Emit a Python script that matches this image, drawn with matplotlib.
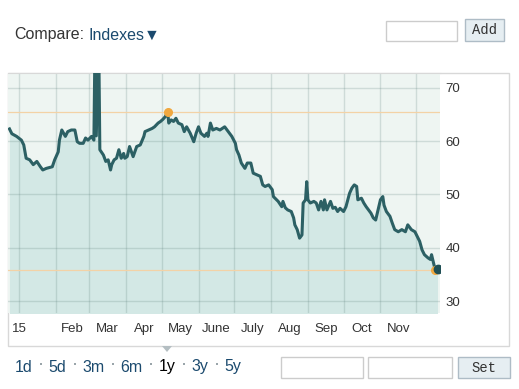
import matplotlib
matplotlib.use("Agg")
import matplotlib.pyplot as plt
import matplotlib.patches as mpatches
import numpy as np
import pandas as pd

# days counted from 2015-01-01
days = [-8, -6, -2, 2, 4, 6, 9, 12, 15, 18, 20, 23, 28, 30, 33, 34, 36, 39, 41, 44,
        47, 49, 51, 54, 56, 58, 61, 63, 64, 65, 67, 68, 71, 73, 75, 77, 78, 80, 82, 84,
        86, 88, 89, 91, 93, 96, 98, 99, 102, 105, 106, 109, 112, 114, 117, 119, 121, 123, 125, 126,
        128, 130, 132, 134, 137, 139, 141, 144, 147, 149, 151, 153, 156, 158, 159, 161, 163, 166, 169, 173,
        175, 177, 179, 182, 183, 185, 187, 190, 192, 195, 197, 200, 203, 205, 207, 210, 213, 214, 218, 221,
        222, 224, 226, 229, 231, 232, 234, 236, 238, 239, 241, 242, 243, 245, 248, 250, 252, 254, 256, 257,
        259, 262, 264, 266, 268, 270, 273, 275, 278, 280, 282, 284, 285, 288, 290, 292, 294, 296, 298, 300,
        302, 304, 306, 307, 309, 312, 314, 316, 319, 322, 325, 327, 330, 333, 335, 337, 339, 341, 344, 346,
        347, 349, 350, 352]
values = [62.3, 61.4, 60.9, 60.2, 59.3, 56.8, 56.5, 55.6, 56.2, 55.2, 54.6, 54.9, 55.2, 56.5, 58.0, 60.2, 62.1, 60.9, 61.8, 62.1,
          62.1, 59.9, 59.6, 59.6, 60.6, 60.2, 60.9, 60.2, 80.0, 61.0, 80.0, 58.4, 57.4, 56.2, 56.5, 54.6, 55.6, 56.5, 56.8, 58.4,
          56.8, 57.7, 56.8, 57.1, 59.0, 57.1, 58.4, 59.0, 59.3, 60.9, 61.8, 62.1, 62.4, 62.7, 63.4, 63.7, 64.1, 64.6, 65.5, 63.4,
          64.0, 63.7, 64.3, 63.4, 63.1, 61.8, 62.7, 61.5, 59.9, 61.5, 62.7, 61.5, 60.9, 61.5, 60.9, 63.4, 62.1, 62.4, 62.1, 62.7,
          62.1, 61.5, 60.9, 59.6, 58.4, 57.4, 55.9, 54.9, 55.9, 55.9, 54.0, 53.7, 53.4, 51.8, 51.5, 51.8, 50.9, 49.6, 48.7, 47.7,
          48.7, 47.5, 47.1, 46.8, 45.6, 44.3, 43.4, 41.8, 42.4, 48.4, 49.0, 52.4, 49.0, 48.4, 48.7, 48.4, 47.1, 48.7, 47.1, 49.0,
          47.1, 48.7, 47.4, 47.6, 46.8, 47.4, 46.8, 47.7, 50.2, 51.2, 51.8, 51.5, 49.0, 49.3, 48.4, 47.7, 47.1, 46.5, 45.6, 45.2,
          47.1, 49.0, 49.6, 48.0, 46.8, 45.9, 44.6, 43.4, 43.0, 43.4, 43.0, 44.3, 43.4, 43.0, 42.1, 41.2, 39.6, 38.7, 38.1, 37.8,
          38.7, 36.8, 35.9, 36.0]

month_labels = ["15", "Feb", "Mar", "Apr", "May", "June", "July", "Aug", "Sep", "Oct", "Nov"]
y_ticks = [30, 40, 50, 60, 70]
periods = ["1d", "5d", "3m", "6m", "1y", "3y", "5y"]
selected = "1y"

W, H = 519, 389
base = pd.Timestamp("2015-01-01")
dates = base + pd.to_timedelta(days, unit="D")
vals = np.array(values)

line_col = "#2c6064"
fill_col = "#d3e8e5"
bg_col = "#eef5f2"
orange = "#f0a840"
link_col = "#1b4a6e"


def fx(x):
    return x / W


def fy(y):
    return 1 - y / H


plt.rcParams["font.family"] = ["Liberation Sans", "DejaVu Sans"]
fig = plt.figure(figsize=(W / 100, H / 100), dpi=100)
fig.patch.set_facecolor("white")

# chart panel
fig.add_artist(mpatches.Rectangle((fx(8), fy(346)), fx(501), 273 / H, transform=fig.transFigure,
                                  facecolor="white", edgecolor="#d8d8d8", lw=1, zorder=-5))

ax = fig.add_axes([fx(8), fy(313), fx(432), 240 / H])
ax.set_zorder(2)
ax.set_facecolor(bg_col)
x_lo = base + pd.Timedelta(days=-9.25)
x_hi = base + pd.Timedelta(days=354.1)
ax.set_xlim(x_lo, x_hi)
ax.set_ylim(27.75, 72.8)

ax.fill_between(dates, vals, 20, color=fill_col, lw=0, zorder=1)

month_starts = pd.date_range("2015-01-01", "2015-12-01", freq="MS")
for d in month_starts:
    ax.axvline(d, color="#5d807c", alpha=0.22, lw=1, zorder=1.5)
for t in y_ticks:
    ax.axhline(t, color="#5d807c", alpha=0.22, lw=1, zorder=1.5)

imax = int(np.argmax(np.where(vals > 70, 0, vals)))
imin = int(np.argmin(vals))
ax.axhline(vals[imax], color="#f3d2a6", lw=0.9, zorder=1.6)
ax.axhline(vals[imin], color="#f3d2a6", lw=0.9, zorder=1.6)

ax.plot(dates, vals, color=line_col, lw=2.2, zorder=3, solid_joinstyle="round")
ax.plot(dates[imax], vals[imax], "o", color=orange, ms=5.5, zorder=4)
ax.plot(dates[imin], vals[imin], "o", color=orange, ms=5.5, zorder=4)
ax.plot(dates[-1], vals[-1], "o", color="#1f4f55", ms=6, zorder=5)

# x labels: year at Jan 1, months at mid-month
label_pos = [month_starts[0]] + [month_starts[i] + (month_starts[i + 1] - month_starts[i]) / 2
                                 for i in range(1, 11)]
ax.set_xticks(label_pos)
ax.set_xticklabels(month_labels)
ax.yaxis.tick_right()
ax.set_yticks(y_ticks)
ax.tick_params(axis="both", length=0, labelsize=9.5, colors="#333333")
ax.tick_params(axis="x", pad=7)
ax.tick_params(axis="y", pad=4)
for s in ax.spines.values():
    s.set_visible(False)
ax.spines["top"].set_visible(True)
ax.spines["top"].set_color("#d8d8d8")

# header
t1 = fig.text(fx(14), fy(35), "Compare:", fontsize=11.5, color="#333333", va="center")
fig.canvas.draw()
bb = t1.get_window_extent()
fig.text((bb.x1 + 4) / W, fy(35), "Indexes\u25BC", fontsize=11.5, color=link_col, va="center",
         family=["Liberation Sans", "DejaVu Sans"])


def box(x0, y0, x1, y1, face="white", edge="#cccccc"):
    fig.add_artist(mpatches.Rectangle((fx(x0), fy(y1)), fx(x1 - x0), (y1 - y0) / H,
                                      transform=fig.transFigure, facecolor=face, edgecolor=edge, lw=1))


box(386, 21, 457, 41)
box(465, 19, 504, 41, face="#e6eef2", edge="#aebcc6")
fig.text(fx(484.5), fy(30), "Add", fontsize=10, color="#333333", ha="center", va="center",
         family="Liberation Mono")

# bottom controls
fig.add_artist(mpatches.Polygon([[fx(162), fy(346)], [fx(172), fy(346)], [fx(167), fy(352)]],
                                transform=fig.transFigure, facecolor="#b4bec2", edgecolor="none"))
xpos = 15
for i, p in enumerate(periods):
    t = fig.text(fx(xpos), fy(367), p, fontsize=11.5, va="center",
                 color="black" if p == selected else link_col)
    fig.canvas.draw()
    b = t.get_window_extent()
    if i < len(periods) - 1:
        fig.add_artist(mpatches.Rectangle((b.x1 / W + fx(7), fy(365)), fx(2), 2 / H,
                                          transform=fig.transFigure, facecolor="#9aa5aa",
                                          edgecolor="none"))
    xpos = b.x1 + 16

box(281, 357, 363, 378)
box(368, 357, 452, 378)
box(458, 357, 510, 378, face="#e6eef2", edge="#aebcc6")
fig.text(fx(484), fy(367.5), "Set", fontsize=10, color="#333333", ha="center", va="center",
         family="Liberation Mono")

fig.savefig("out.png", dpi=100)
